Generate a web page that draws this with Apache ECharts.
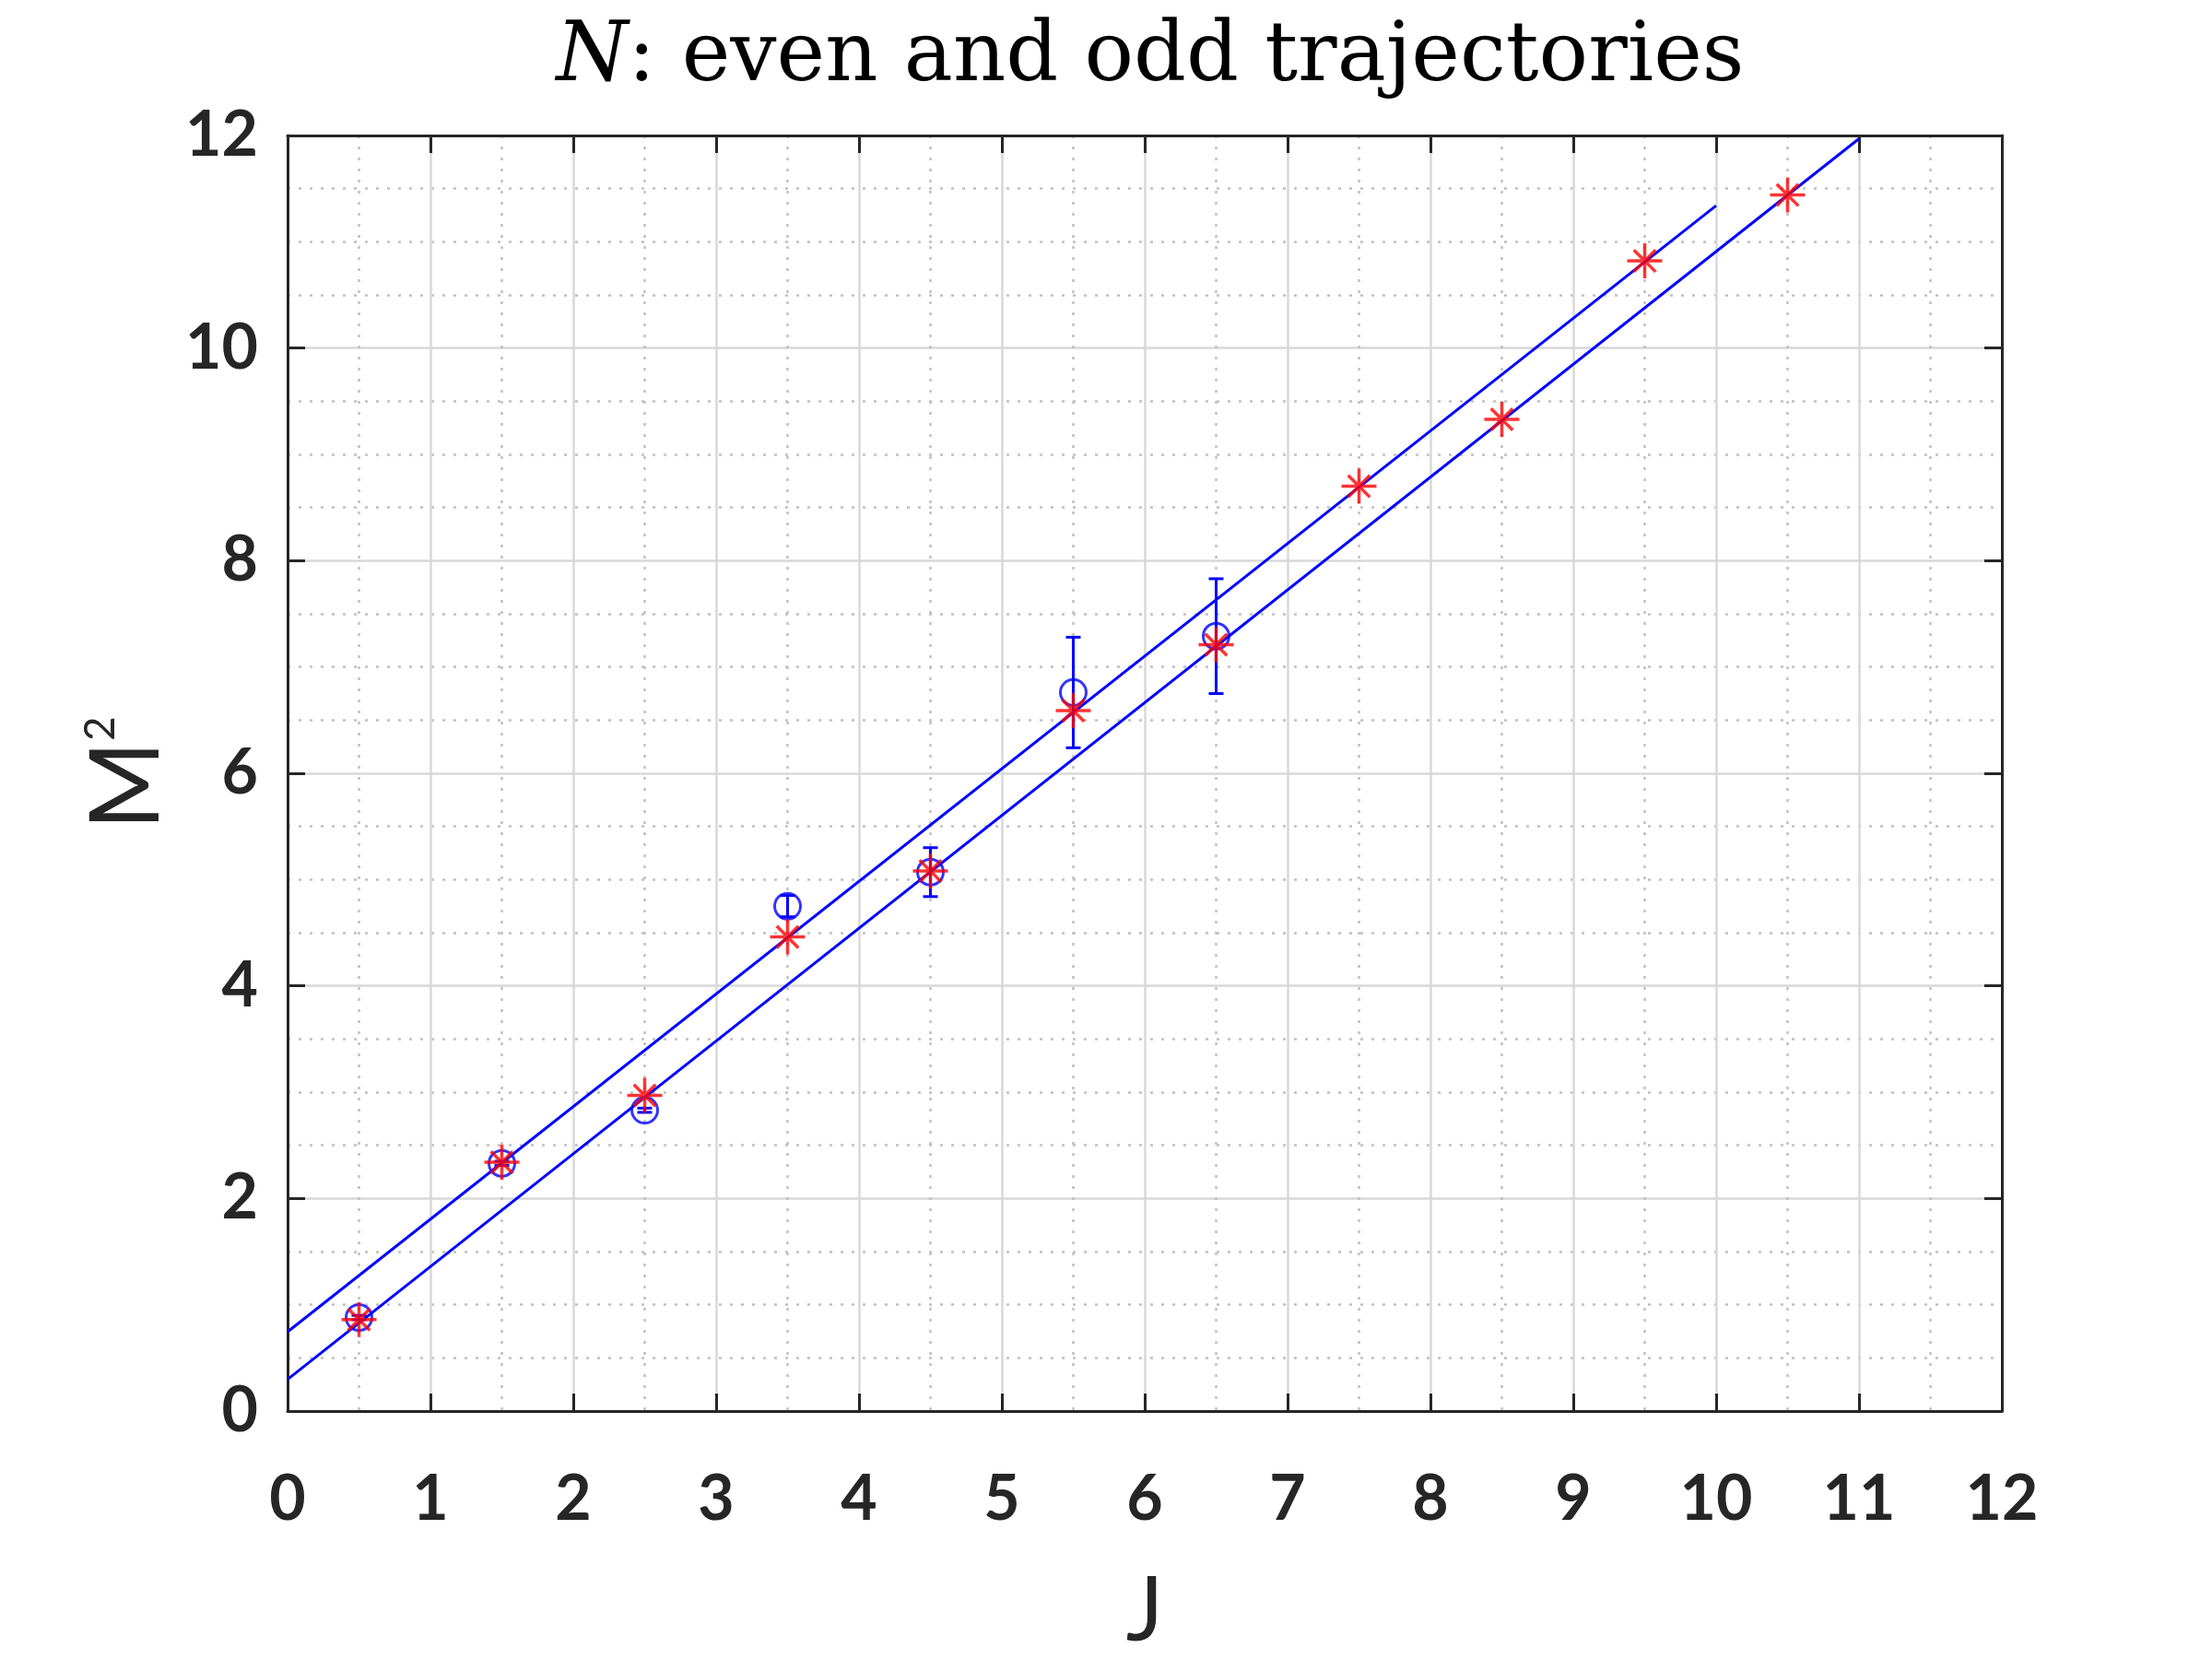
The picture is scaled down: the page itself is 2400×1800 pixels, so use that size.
<!DOCTYPE html>
<html>
<head>
<meta charset="utf-8">
<script src="https://cdn.jsdelivr.net/npm/echarts@6/dist/echarts.min.js"></script>
<style>html,body{margin:0;padding:0;background:#fff;}#c{width:2400px;height:1800px;}</style>
</head>
<body>
<div id="c"></div>
<script>
// Experimental points (blue circles with error bars)
const J_exp = [0.5, 1.5, 2.5, 3.5, 4.5, 5.5, 6.5];
const M2_exp = [0.88, 2.33, 2.83, 4.75, 5.07, 6.76, 7.29];
const err_exp = [0.02, 0.02, 0.02, 0.10, 0.23, 0.52, 0.54];
// Model points (red asterisks)
const J_th = [0.5, 1.5, 2.5, 3.5, 4.5, 5.5, 6.5, 7.5, 8.5, 9.5, 10.5];
const M2_th = [0.86, 2.34, 2.97, 4.46, 5.08, 6.59, 7.21, 8.70, 9.33, 10.82, 11.44];
// Trajectory lines (endpoints)
const J_upper = [0, 10];
const M2_upper = [0.746, 11.34];
const J_lower = [0, 11];
const M2_lower = [0.298, 11.97];
// Ticks
const xTicks = [0,1,2,3,4,5,6,7,8,9,10,11,12];
const yTicks = [0,2,4,6,8,10,12];

const zip = (a, b, c) => a.map((v, i) => c ? [v, b[i], c[i]] : [v, b[i]]);

const axisColor = '#262626';
const gridMajor = {show: true, lineStyle: {color: '#d8d8d8', width: 2.5}};
const gridMinor = {show: true, lineStyle: {color: '#c0c0c0', width: 2.5, type: [3, 9]}};
const labelFont = {fontFamily: 'Lato', fontWeight: 'bold', fontSize: 68, color: axisColor};

const chart = echarts.init(document.getElementById('c'), null, {renderer: 'canvas'});
const star = 'path://M0,-1L0,1M-1,0L1,0M-0.62,-0.62L0.62,0.62M-0.62,0.62L0.62,-0.62';

chart.setOption({
  animation: false,
  backgroundColor: '#fff',
  title: {
    text: '{i|N}: even and odd trajectories',
    left: 1243,
    textAlign: 'center',
    top: 14,
    textStyle: {
      fontFamily: 'DejaVu Serif', fontSize: 89, fontWeight: 'normal', color: '#000',
      rich: {i: {fontFamily: 'DejaVu Serif', fontStyle: 'italic', fontSize: 89, color: '#000'}}
    }
  },
  grid: {left: 312, right: 228, top: 147, bottom: 269, containLabel: false, outerBoundsMode: 'none'},
  xAxis: [{
    type: 'value', min: xTicks[0], max: xTicks[xTicks.length - 1], interval: 1,
    name: 'J', nameLocation: 'middle', nameGap: 170,
    nameTextStyle: {fontFamily: 'Lato', fontSize: 96, color: axisColor},
    axisLine: {show: true, onZero: false, lineStyle: {color: axisColor, width: 3}},
    axisTick: {show: true, inside: true, length: 19, lineStyle: {color: axisColor, width: 3}},
    axisLabel: Object.assign({margin: 62}, labelFont),
    splitLine: gridMajor,
    minorTick: {show: false, splitNumber: 2},
    minorSplitLine: gridMinor
  }, {
    type: 'value', position: 'top', min: 0, max: 12, interval: 1,
    axisLine: {show: true, onZero: false, lineStyle: {color: axisColor, width: 3}},
    axisTick: {show: true, inside: true, length: 19, lineStyle: {color: axisColor, width: 3}},
    axisLabel: {show: false}, splitLine: {show: false}
  }],
  yAxis: [{
    type: 'value', min: yTicks[0], max: yTicks[yTicks.length - 1], interval: 2,
    name: '{m|M}{s|2}', nameLocation: 'middle', nameGap: 122, nameRotate: 90,
    nameTextStyle: {
      rich: {
        m: {fontFamily: 'Lato', fontSize: 104, color: axisColor},
        s: {fontFamily: 'Lato', fontSize: 46, color: axisColor, verticalAlign: 'top', padding: [0, 0, 44, 0]}
      }
    },
    axisLine: {show: true, onZero: false, lineStyle: {color: axisColor, width: 3}},
    axisTick: {show: true, inside: true, length: 19, lineStyle: {color: axisColor, width: 3}},
    axisLabel: Object.assign({margin: 32}, labelFont),
    splitLine: gridMajor,
    minorTick: {show: false, splitNumber: 4},
    minorSplitLine: gridMinor
  }, {
    type: 'value', position: 'right', min: 0, max: 12, interval: 2,
    axisLine: {show: true, onZero: false, lineStyle: {color: axisColor, width: 3}},
    axisTick: {show: true, inside: true, length: 19, lineStyle: {color: axisColor, width: 3}},
    axisLabel: {show: false}, splitLine: {show: false}
  }],
  series: [
    {
      type: 'line', name: 'upper', data: zip(J_upper, M2_upper), symbol: 'none',
      lineStyle: {color: '#0000ff', width: 3}, z: 2
    },
    {
      type: 'line', name: 'lower', data: zip(J_lower, M2_lower), symbol: 'none',
      lineStyle: {color: '#0000ff', width: 3}, z: 2
    },
    {
      type: 'custom', name: 'errors', z: 3,
      data: zip(J_exp, M2_exp, err_exp),
      renderItem: function (params, api) {
        const x = api.value(0), y = api.value(1), e = api.value(2);
        const top = api.coord([x, y + e]);
        const bot = api.coord([x, y - e]);
        const hw = 8;
        const style = {stroke: '#0000ff', lineWidth: 3, fill: null};
        return {
          type: 'group',
          children: [
            {type: 'line', shape: {x1: top[0], y1: top[1], x2: bot[0], y2: bot[1]}, style: style},
            {type: 'line', shape: {x1: top[0] - hw, y1: top[1], x2: top[0] + hw, y2: top[1]}, style: style},
            {type: 'line', shape: {x1: bot[0] - hw, y1: bot[1], x2: bot[0] + hw, y2: bot[1]}, style: style}
          ]
        };
      }
    },
    {
      type: 'scatter', name: 'exp', data: zip(J_exp, M2_exp), symbol: 'circle', symbolSize: 28,
      itemStyle: {color: 'rgba(0,0,0,0)', borderColor: '#0000ff', borderWidth: 3}, z: 3
    },
    {
      type: 'scatter', name: 'model', data: zip(J_th, M2_th), symbol: star, symbolSize: 38,
      itemStyle: {color: 'rgba(0,0,0,0)', borderColor: '#ff0000', borderWidth: 3.5}, z: 4
    }
  ]
});
</script>
</body>
</html>
